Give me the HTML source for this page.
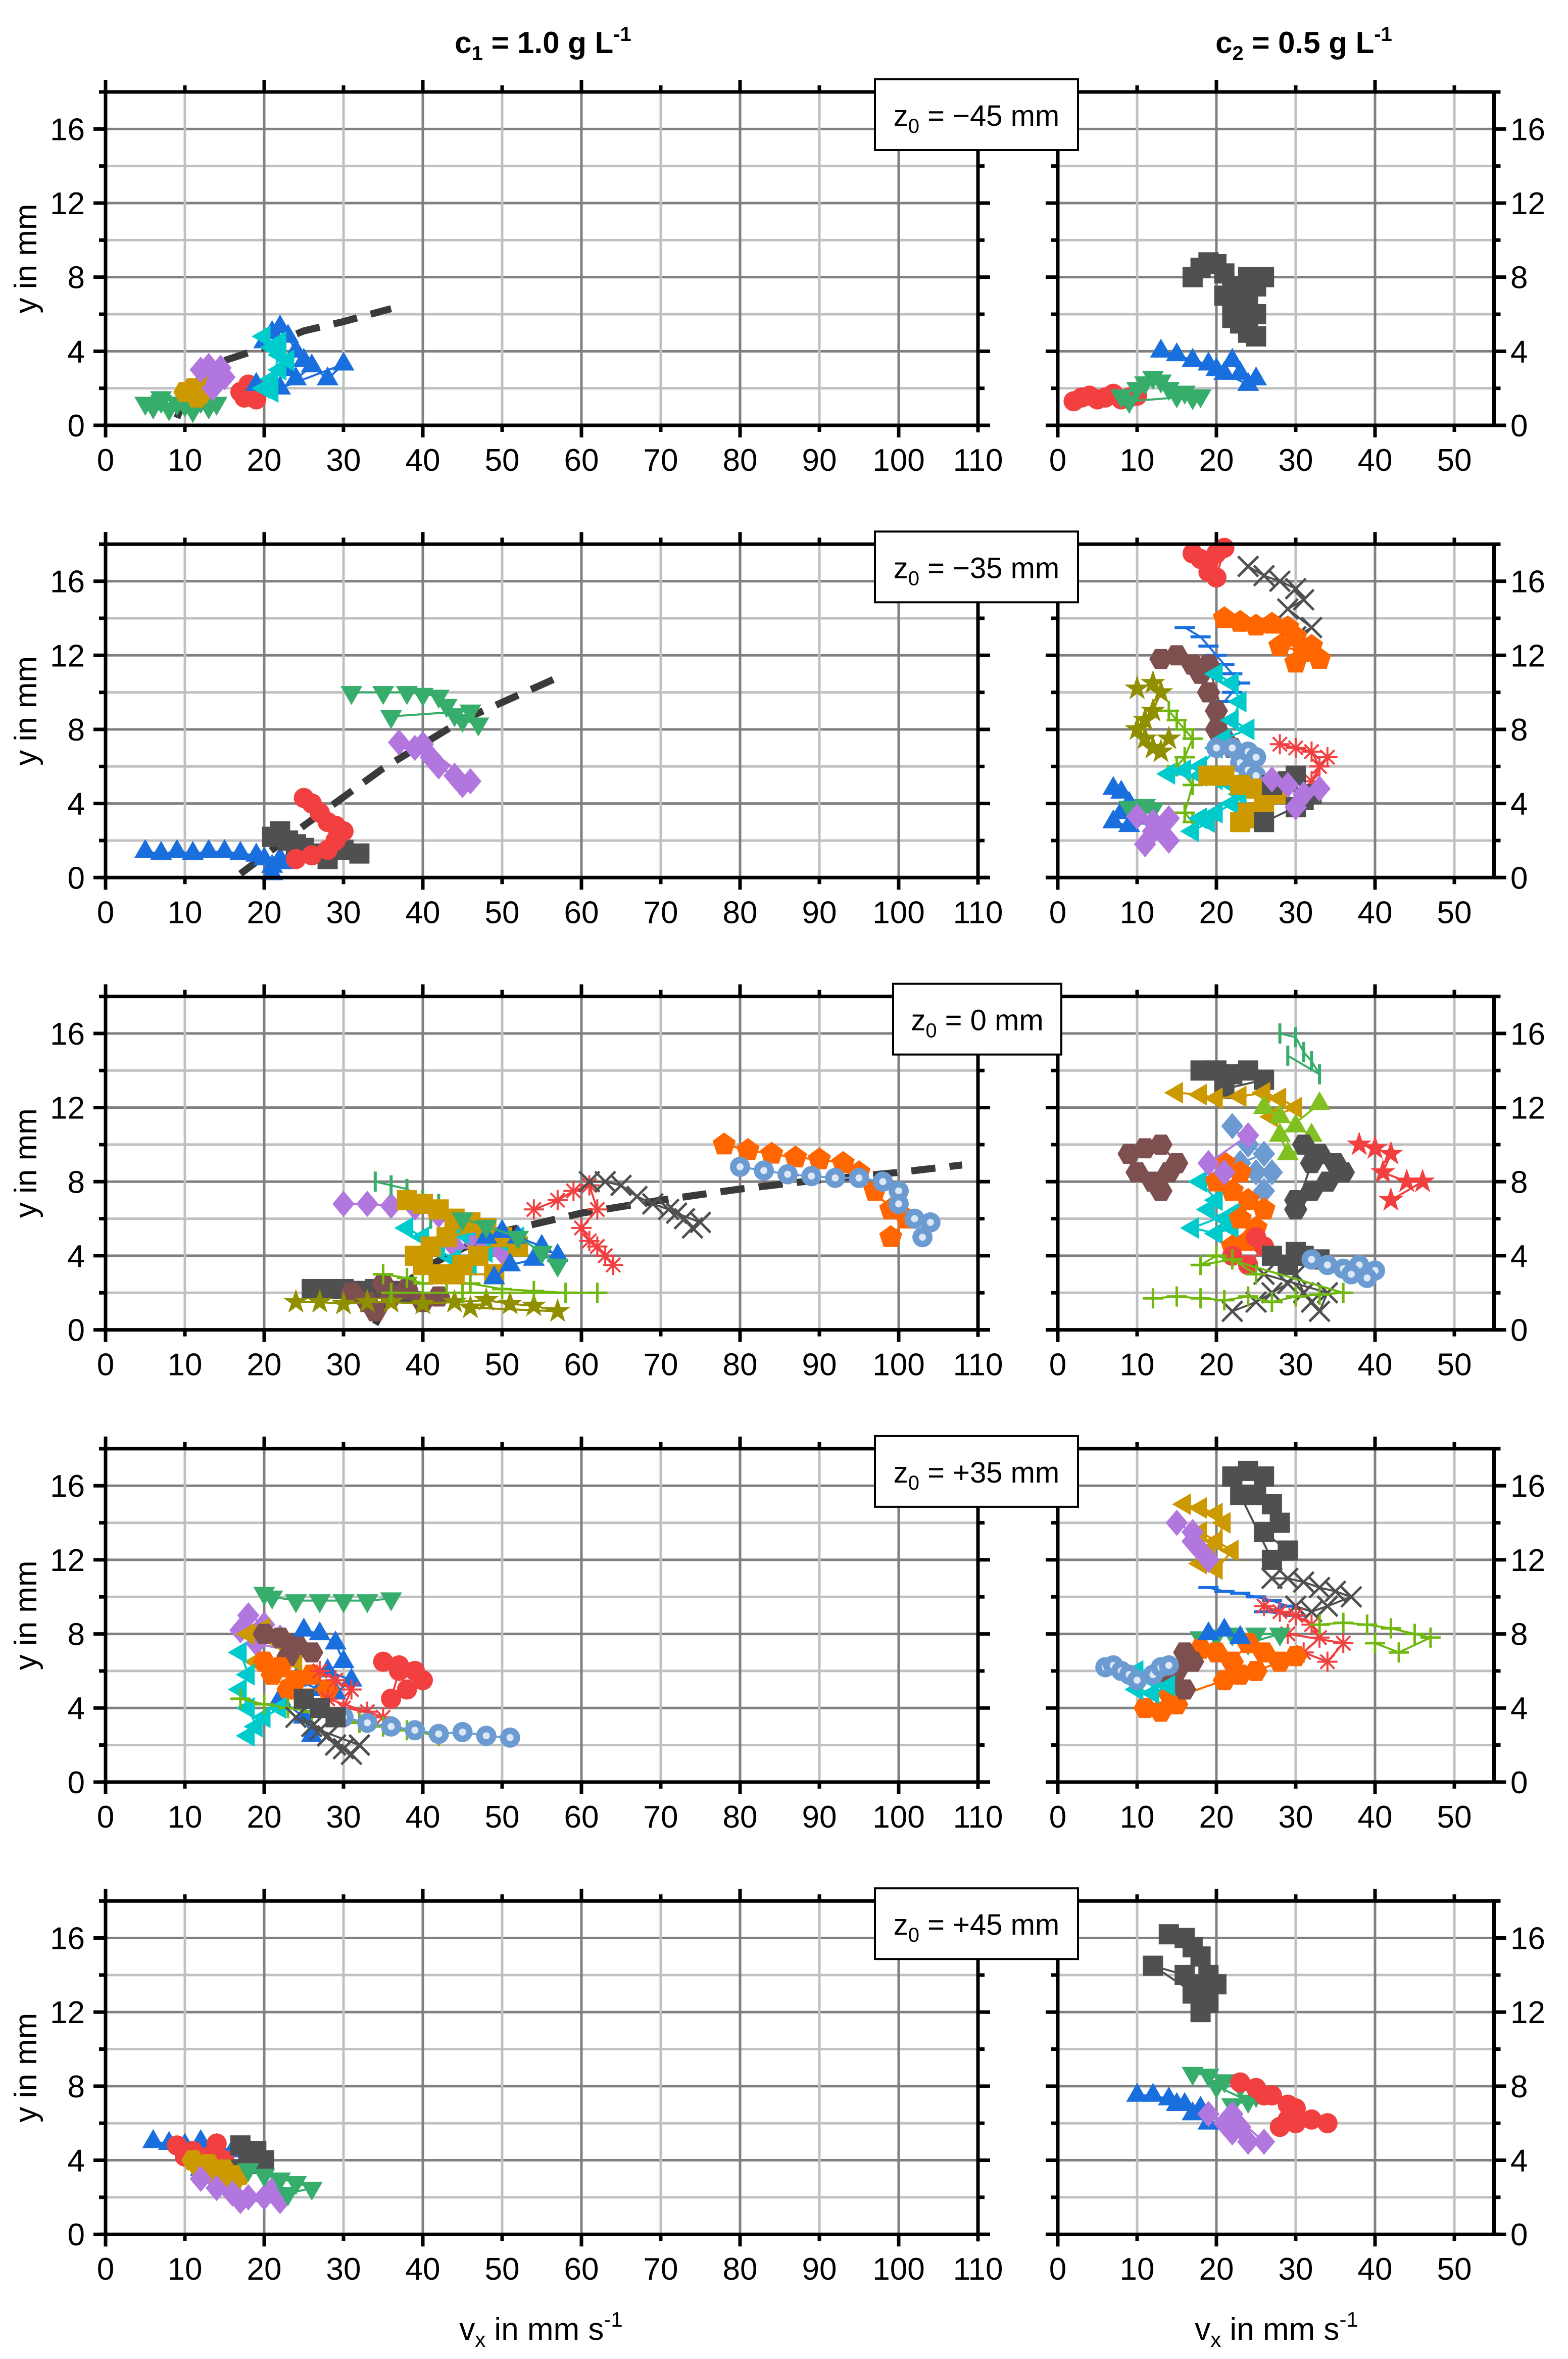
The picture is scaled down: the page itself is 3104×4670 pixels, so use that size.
<!DOCTYPE html>
<html><head><meta charset="utf-8"><style>
html,body{margin:0;padding:0;background:#fff;}
svg{display:block;}
</style></head><body>
<svg id="fig" xmlns="http://www.w3.org/2000/svg" width="3104" height="4670" viewBox="0 0 3104 4670" font-family="Liberation Sans, Arial, sans-serif">
<rect width="3104" height="4670" fill="#fff"/>
<g id="grid"></g><g id="marks"></g><g id="axes"></g><g id="labels"></g>
</svg>
<script>
// ---------- data (vx in mm/s, y in mm) ----------
const xTicksLeft=[0,10,20,30,40,50,60,70,80,90,100,110];
const xTicksRight=[0,10,20,30,40,50];
const yTicks=[0,4,8,12,16];
const panelLabels=["z\u2080 = \u221245 mm","z\u2080 = \u221235 mm","z\u2080 = 0 mm","z\u2080 = +35 mm","z\u2080 = +45 mm"];
// panel 1 (z0=-45)
const p1L_green=[[5,1.2],[6,1.0],[7,1.3],[8,0.9],[9,1.2],[10,1.1],[11,0.8],[12,1.3],[13,1.0],[14,1.2],[7,1.5],[10,1.5]];
const p1L_gold=[[10,1.8],[11,2.0],[12,1.7],[11.5,1.5],[12.5,2.1]];
const p1L_purple=[[12,3.0],[13,3.2],[14,2.8],[14,2.4],[13.5,2.0],[15,2.6],[14.5,3.1]];
const p1L_red=[[17,1.8],[18,1.6],[19,2.0],[18,2.2],[17.5,1.5],[19,1.4]];
const p1L_blue=[[20,4.5],[21,5.0],[22,5.3],[23,4.8],[24,4.0],[25,3.5],[23,3.0],[24,2.5],[26,3.2],[28,2.5],[30,3.3],[22,2.0],[19,2.2]];
const p1L_cyan=[[20,4.8],[21,4.2],[22,3.8],[23,3.5],[22,3.0],[21,2.5],[20,2.0],[21,1.8],[22,4.5]];
const p1L_fit=[[9,0.4],[10,1.5],[12,2.6],[15,3.5],[20,4.2],[25,5.1],[30,5.6],[36,6.3]];
const p1R_gray=[[17,8],[18,8.5],[19,8.8],[20,8.7],[21,8.2],[22,7.5],[23,7.0],[24,8.0],[26,8.0],[25,7.5],[24,6.5],[25,6.0],[22,5.8],[23,5.5],[24,5.0],[25,4.8],[21,7.0],[22,6.5]];
const p1R_blue=[[13,4.0],[15,3.8],[17,3.5],[19,3.3],[20,3.0],[22,3.5],[23,2.8],[25,2.5],[24,2.2],[21,2.8]];
const p1R_red=[[2,1.3],[3,1.5],[4,1.6],[5,1.4],[6,1.5],[7,1.7],[8,1.4],[9,1.5],[10,1.6]];
const p1R_green=[[8,1.6],[10,2.0],[11,2.3],[12,2.6],[13,2.4],[14,2.0],[15,1.6],[16,1.8],[17,1.5],[18,1.6],[9,1.3]];
// panel 2 (z0=-35)
const p2L_blue=[[5,1.4],[7,1.3],[9,1.4],[11,1.3],[13,1.4],[15,1.4],[17,1.3],[19,1.2],[20,1.0],[21,0.6],[22,1.0],[23,0.8],[21,0.2]];
const p2L_gray=[[21,2.2],[22,2.5],[23,2.0],[24,1.8],[25,1.6],[27,1.3],[28,1.0],[30,1.5],[32,1.3]];
const p2L_red=[[25,4.3],[26,4.0],[27,3.5],[28,3.0],[29,2.8],[30,2.5],[29,2.0],[28,1.5],[26,1.2],[24,1.0]];
const p2L_purple=[[37,7.3],[39,7.0],[41,6.5],[42,6.0],[44,5.5],[45,5.0],[46,5.2],[40,7.2]];
const p2L_green=[[31,10.0],[35,10.0],[38,10.0],[40,9.9],[42,9.8],[43,9.3],[44,8.8],[45,8.5],[47,8.3],[46,9.0],[36,8.7]];
const p2L_fit=[[17,0.2],[25,2.8],[35,5.9],[45,8.5],[57,10.8]];
const p2R_red=[[17,17.5],[18,17.2],[19,17.0],[20,17.5],[19,16.5],[20,16.2],[21,17.8]];
const p2R_grayx=[[24,16.8],[26,16.3],[28,16.0],[30,15.6],[31,15.0],[29,14.5],[32,13.5],[30,13.0]];
const p2R_orange=[[21,14.0],[23,13.8],[25,13.6],[27,13.7],[29,13.5],[30,13.0],[28,12.5],[31,12.2],[33,11.8],[30,11.6],[32,12.5]];
const p2R_bluedash=[[16,13.5],[18,13.0],[19,12.5],[20,12.0],[21,11.5],[22,11.0],[23,10.5],[22,10.0],[21,9.5]];
const p2R_brown=[[13,11.8],[15,12.0],[17,11.5],[18,11.0],[19,10.0],[20,9.0],[20,8.0],[21,7.5],[22,7.0],[19,11.5]];
const p2R_olive=[[10,10.2],[12,10.5],[13,10.0],[12,9.0],[11,8.5],[10,8.0],[11,7.5],[12,7.0],[13,6.8],[14,7.5]];
const p2R_lime=[[14,9.0],[15,8.5],[16,8.0],[17,7.5],[16,6.5],[15,6.0],[17,5.0],[16,3.5],[17,3.0]];
const p2R_cyan=[[20,11.0],[22,10.5],[23,9.5],[22,8.5],[24,8.0],[21,7.5],[20,7.0],[18,6.0],[16,5.8],[14,5.6],[18,5.5],[20,5.3],[22,5.0],[23,4.5],[22,4.0],[20,3.5],[19,3.0],[17,2.5],[18,3.2]];
const p2R_ltblue=[[20,7.0],[22,7.0],[24,6.8],[25,6.5],[23,6.2],[24,5.8],[25,5.5]];
const p2R_redstar=[[28,7.2],[30,7.0],[32,6.8],[33,6.0],[32,5.2],[34,6.5]];
const p2R_gold=[[19,5.5],[21,5.5],[23,5.0],[25,4.8],[27,5.0],[28,4.5],[26,4.0],[24,3.5],[23,3.0],[25,3.2]];
const p2R_gray=[[27,5.0],[29,5.2],[30,5.5],[32,4.5],[31,4.2],[30,3.8],[26,3.0]];
const p2R_purple2=[[27,5.3],[29,5.0],[31,4.5],[33,4.8],[30,3.8]];
const p2R_blue=[[7,4.8],[8,4.6],[9,4.0],[8,3.5],[7,3.0],[9,2.8],[10,3.2]];
const p2R_green=[[9,3.8],[11,3.9],[12,3.7]];
const p2R_purple=[[10,3.3],[12,3.0],[13,2.5],[14,2.0],[12,2.5],[14,3.2],[11,1.8]];
// panel 3 (z0=0)
const p3L_gray=[[26,2.2],[28,2.2],[30,2.2],[32,2.1],[34,2.2],[36,2.1],[38,2.0]];
const p3L_brown=[[31,2.0],[33,1.5],[34,1.0],[36,1.8],[38,2.2],[40,1.5],[35,2.5],[42,1.8]];
const p3L_olive=[[24,1.5],[27,1.5],[30,1.4],[33,1.5],[36,1.5],[40,1.4],[44,1.5],[48,1.6],[51,1.4],[54,1.3],[57,1.0],[46,1.2]];
const p3L_lime=[[35,3.0],[38,2.8],[40,2.5],[43,2.6],[46,2.5],[50,2.2],[54,2.1],[58,2.0],[62,2.0],[45,2.0],[36,2.0]];
const p3L_purple=[[30,6.8],[33,6.8],[36,6.7],[39,6.6],[42,6.2],[44,5.5],[46,5.0],[48,4.6],[50,4.2],[44,4.5]];
const p3L_greendash=[[34,8.0],[36,7.8],[38,7.6],[40,7.0],[42,6.8],[41,6.0]];
const p3L_gold=[[38,7.0],[40,6.8],[42,6.5],[44,6.0],[46,5.8],[48,5.5],[43,5.0],[41,4.5],[39,4.0],[40,3.5],[42,3.0],[45,3.5],[47,4.0],[50,5.0],[52,4.5],[49,3.0],[44,3.0]];
const p3L_cyan=[[38,5.5],[40,5.0],[42,4.3],[44,3.8],[46,3.5],[48,4.2],[50,4.8],[52,5.0],[45,5.2]];
const p3L_blue=[[48,5.0],[50,5.3],[52,5.0],[55,4.5],[57,4.0],[54,3.8],[51,3.5],[49,2.8]];
const p3L_green=[[45,6.0],[48,5.6],[52,5.0],[55,4.2],[57,3.5]];
const p3L_redstar=[[54,6.5],[57,7.0],[59,7.5],[61,7.8],[62,6.5],[60,5.5],[61,4.8],[63,4.0],[64,3.5],[62,4.5]];
const p3L_grayx=[[61,8.0],[63,8.0],[65,7.8],[67,7.2],[69,6.8],[71,6.5],[73,6.0],[74,5.5],[75,5.8],[72,6.3]];
const p3L_orange=[[78,10.0],[81,9.7],[84,9.5],[87,9.3],[90,9.2],[93,9.0],[95,8.5],[97,7.5],[99,6.5],[101,6.0],[99,5.0]];
const p3L_ltblue=[[80,8.8],[83,8.6],[86,8.4],[89,8.3],[92,8.2],[95,8.2],[98,8.0],[100,7.5],[100,6.8],[102,6.0],[104,5.8],[103,5.0]];
const p3L_fit=[[34,0.3],[36,1.8],[40,3.3],[45,4.4],[50,5.3],[55,5.8],[60,6.3],[70,7.0],[80,7.6],[90,8.1],[100,8.5],[108,8.9]];
const p3R_gray=[[18,14],[20,14],[22,13.8],[24,14],[26,13.5],[21,13.0]];
const p3R_gold=[[15,12.8],[18,12.7],[20,12.5],[23,12.6],[26,12.8],[28,12.5],[30,12.0],[27,11.5]];
const p3R_greendash=[[28,16],[30,15.8],[31,15.0],[32,14.5],[33,13.8],[29,14.8]];
const p3R_ygreen=[[26,12],[28,11.5],[30,11],[32,10.5],[31,9.8],[29,9.5],[28,10.5],[33,12.2]];
const p3R_darkhex=[[31,10],[33,9.5],[35,9.0],[36,8.5],[34,8.0],[32,7.5],[30,7.0],[30,6.5],[32,9]];
const p3R_redstar=[[38,10],[40,9.8],[42,9.5],[41,8.5],[44,8.0],[46,8.0],[42,7.0]];
const p3R_brown=[[9,9.5],[11,9.8],[13,10.0],[15,9.0],[14,8.5],[12,8.0],[10,8.5],[13,7.5]];
const p3R_ltdiam=[[22,11.0],[24,10.0],[26,9.5],[23,9.0],[25,8.5],[27,8.5],[26,7.5]];
const p3R_cyan=[[18,8.0],[20,7.0],[19,6.5],[21,6.0],[22,5.5],[20,5.2],[17,5.5],[23,6.5]];
const p3R_orange=[[21,9.0],[23,8.5],[22,7.5],[24,7.0],[23,6.0],[25,5.5],[24,4.8],[22,4.5],[26,6.5],[20,8.0]];
const p3R_purple=[[21,8.5],[19,9.0],[24,10.5]];
const p3R_red=[[22,4.0],[24,3.5],[26,4.5],[25,5.0]];
const p3R_grayx=[[22,1.0],[25,1.5],[27,2.0],[29,2.5],[30,3.0],[31,2.0],[32,1.5],[33,1.0],[34,2.0],[26,3.0]];
const p3R_graysq=[[27,4.0],[29,3.5],[31,4.0],[33,3.8],[30,4.2]];
const p3R_ltblue=[[32,3.8],[34,3.5],[36,3.3],[38,3.5],[40,3.2],[39,2.8],[37,3.0]];
const p3R_lime=[[12,1.7],[15,1.8],[18,1.7],[21,1.6],[24,1.8],[27,1.5],[30,1.8],[33,1.9],[36,2.0],[20,4.0],[18,3.5],[22,3.8],[25,3.0]];
// panel 4 (z0=+35)
const p4L_green=[[20,10.2],[21,10.0],[24,9.8],[27,9.8],[30,9.8],[33,9.8],[36,9.9]];
const p4L_purple=[[18,9.0],[20,8.5],[22,7.8],[24,7.0],[19,7.5],[17,8.2]];
const p4L_gold=[[18,8.0],[20,8.3],[22,7.5],[24,6.5],[21,6.0],[19,6.5]];
const p4L_brown=[[20,8],[22,7.8],[24,7.5],[26,7.0],[23,6.8]];
const p4L_blue=[[25,8.2],[27,8.0],[29,7.5],[30,6.5],[28,6.0],[31,5.5],[29,4.8],[27,5.0],[24,5.5],[22,4.5],[25,3.5],[26,2.5]];
const p4L_orange=[[20,6.5],[22,6.2],[24,5.5],[26,5.8],[28,5.0],[23,5.0],[21,5.8]];
const p4L_cyan=[[17,7.0],[18,5.8],[17,5.0],[18,4.0],[19,3.0],[18,2.5],[20,3.5],[22,4.0]];
const p4L_redstar=[[27,6.0],[29,5.5],[31,5.0],[30,4.0],[33,3.8],[35,3.5],[28,4.5]];
const p4L_red=[[35,6.5],[37,6.3],[39,6.0],[40,5.5],[38,5.0],[36,4.5],[37,6.0]];
const p4L_lime=[[17,4.5],[20,4.2],[23,4.0],[26,3.8],[29,3.5],[32,3.2],[35,3.0],[38,2.8],[42,2.5]];
const p4L_grayx=[[24,3.5],[26,3.0],[28,2.5],[29,2.0],[30,1.8],[31,1.5],[32,2.0],[27,2.8]];
const p4L_ltblue=[[30,3.5],[33,3.2],[36,3.0],[39,2.8],[42,2.6],[45,2.7],[48,2.5],[51,2.4]];
const p4L_gray=[[25,4.5],[27,4.0],[29,3.5]];
const p4R_gray=[[22,16.5],[24,16.8],[26,16.5],[25,15.5],[27,15.0],[28,14.0],[26,13.5],[29,12.5],[27,12.0],[23,15.5]];
const p4R_gold=[[16,15.0],[18,14.8],[20,14.5],[21,14.0],[20,13.0],[19,12.5],[18,11.8],[20,11.5],[22,12.5],[18,13.5]];
const p4R_purple=[[15,14.0],[17,13.5],[18,12.5],[19,12.0],[17,13.0]];
const p4R_bluedash=[[19,10.5],[21,10.3],[23,10.2],[25,10.0],[27,9.8],[29,9.5],[26,9.2],[30,9.0]];
const p4R_grayx=[[27,11.0],[29,11.0],[31,10.8],[33,10.5],[35,10.3],[37,10.0],[34,9.5],[32,9.2],[30,9.5]];
const p4R_redstar=[[26,9.5],[28,9.2],[30,9.0],[32,8.5],[33,7.8],[31,7.0],[34,6.5],[36,7.5],[29,8.0]];
const p4R_lime=[[33,8.5],[36,8.6],[39,8.5],[42,8.3],[45,8.0],[47,7.8],[43,7.0],[40,7.5]];
const p4R_green=[[18,7.8],[20,7.9],[22,8.0],[25,8.0],[28,8.0],[24,7.5]];
const p4R_orange=[[18,7.2],[20,7.0],[22,6.5],[24,7.5],[26,7.0],[28,6.5],[30,6.8],[25,6.0],[21,5.5],[23,5.8],[11,4.0],[13,3.8],[15,4.2],[14,4.8]];
const p4R_brown=[[15,6.0],[16,7.0],[17,6.5],[14,5.5],[16,5.0]];
const p4R_cyan=[[10,6.0],[12,5.5],[14,5.2],[12,4.8],[10,5.0]];
const p4R_ltblue=[[6,6.2],[7,6.3],[8,6.0],[9,5.8],[10,5.5],[12,5.8],[13,6.2],[14,6.3]];
const p4R_blue=[[19,8.0],[21,8.2],[23,7.8]];
// panel 5 (z0=+45)
const p5L_blue=[[6,5.0],[8,4.9],[10,4.8],[12,5.0],[14,4.8],[16,4.5],[18,4.6],[14,4.0],[12,3.5]];
const p5L_red=[[9,4.8],[11,4.5],[13,4.2],[15,4.0],[12,4.0],[10,4.2],[14,4.9]];
const p5L_gray=[[17,4.8],[19,4.5],[20,4.0],[18,3.8],[16,3.5]];
const p5L_gold=[[11,4.0],[13,3.8],[15,3.5],[17,3.2],[14,3.0],[12,3.5],[16,2.8]];
const p5L_purple=[[12,3.0],[14,2.5],[16,2.2],[18,2.0],[20,2.0],[22,1.8],[17,1.8],[21,2.4]];
const p5L_green=[[18,3.5],[20,3.2],[22,3.0],[24,2.8],[26,2.5],[23,2.2]];
const p5R_gray=[[14,16.2],[16,16.0],[17,15.5],[18,15.0],[19,14.0],[18,13.5],[17,13.0],[16,14.0],[12,14.5],[19,12.5],[20,13.5],[18,12.0]];
const p5R_green=[[17,8.7],[19,8.6],[21,8.3],[23,8.0],[25,7.5],[22,7.0],[24,7.2],[20,8.0]];
const p5R_red=[[23,8.2],[25,7.9],[27,7.5],[29,7.0],[29,6.2],[30,6.0],[32,6.2],[34,6.0],[28,5.8],[30,6.8],[26,7.5]];
const p5R_blue=[[10,7.5],[12,7.5],[14,7.3],[16,7.0],[17,6.5],[19,6.0],[21,6.0],[18,6.8],[15,7.0]];
const p5R_purple=[[19,6.5],[21,6.0],[22,5.5],[24,5.0],[26,5.0],[22,6.5],[23,5.8]];

// ---------- styles ----------
const C={gray:"#505050",red:"#f24040",blue:"#1a6fdf",green:"#37ad6b",purple:"#b177de",gold:"#cc9900",cyan:"#00cbcc",brown:"#7e4f4f",olive:"#8f8f00",orange:"#ff6600",ltblue:"#6c9bd2",lime:"#70b70f",ygreen:"#80c020"};
const SERIES=[
[0,'L','tdown',C.green,p1L_green],[0,'L','hex',C.gold,p1L_gold],[0,'L','diam',C.purple,p1L_purple],[0,'L','circ',C.red,p1L_red],[0,'L','tup',C.blue,p1L_blue],[0,'L','tleft',C.cyan,p1L_cyan],
[0,'R','sq',C.gray,p1R_gray],[0,'R','tup',C.blue,p1R_blue],[0,'R','circ',C.red,p1R_red],[0,'R','tdown',C.green,p1R_green],
[1,'L','tup',C.blue,p2L_blue],[1,'L','sq',C.gray,p2L_gray],[1,'L','circ',C.red,p2L_red],[1,'L','diam',C.purple,p2L_purple],[1,'L','tdown',C.green,p2L_green],
[1,'R','circ',C.red,p2R_red],[1,'R','x',C.gray,p2R_grayx],[1,'R','pent',C.orange,p2R_orange],[1,'R','dash',C.blue,p2R_bluedash],[1,'R','hex',C.brown,p2R_brown],[1,'R','star',C.olive,p2R_olive],[1,'R','plus',C.lime,p2R_lime],[1,'R','tleft',C.cyan,p2R_cyan],[1,'R','ring',C.ltblue,p2R_ltblue],[1,'R','ast',C.red,p2R_redstar],[1,'R','sq',C.gold,p2R_gold],[1,'R','sq',C.gray,p2R_gray],[1,'R','diam',C.purple,p2R_purple2],[1,'R','tup',C.blue,p2R_blue],[1,'R','tdown',C.green,p2R_green],[1,'R','diam',C.purple,p2R_purple],
[2,'L','sq',C.gray,p3L_gray],[2,'L','hex',C.brown,p3L_brown],[2,'L','star',C.olive,p3L_olive],[2,'L','plus',C.lime,p3L_lime],[2,'L','diam',C.purple,p3L_purple],[2,'L','vdash',C.green,p3L_greendash],[2,'L','tleft',C.cyan,p3L_cyan],[2,'L','sq',C.gold,p3L_gold],[2,'L','tup',C.blue,p3L_blue],[2,'L','tdown',C.green,p3L_green],[2,'L','ast',C.red,p3L_redstar],[2,'L','x',C.gray,p3L_grayx],[2,'L','pent',C.orange,p3L_orange],[2,'L','ring',C.ltblue,p3L_ltblue],
[2,'R','sq',C.gray,p3R_gray],[2,'R','tleft',C.gold,p3R_gold],[2,'R','vdash',C.green,p3R_greendash],[2,'R','tup',C.ygreen,p3R_ygreen],[2,'R','hex',C.gray,p3R_darkhex],[2,'R','star',C.red,p3R_redstar],[2,'R','hex',C.brown,p3R_brown],[2,'R','diam',C.ltblue,p3R_ltdiam],[2,'R','tleft',C.cyan,p3R_cyan],[2,'R','pent',C.orange,p3R_orange],[2,'R','diam',C.purple,p3R_purple],[2,'R','circ',C.red,p3R_red],[2,'R','x',C.gray,p3R_grayx],[2,'R','sq',C.gray,p3R_graysq],[2,'R','ring',C.ltblue,p3R_ltblue],[2,'R','plus',C.lime,p3R_lime],
[3,'L','tdown',C.green,p4L_green],[3,'L','diam',C.purple,p4L_purple],[3,'L','tleft',C.gold,p4L_gold],[3,'L','hex',C.brown,p4L_brown],[3,'L','tup',C.blue,p4L_blue],[3,'L','hex',C.orange,p4L_orange],[3,'L','tleft',C.cyan,p4L_cyan],[3,'L','ast',C.red,p4L_redstar],[3,'L','circ',C.red,p4L_red],[3,'L','plus',C.lime,p4L_lime],[3,'L','x',C.gray,p4L_grayx],[3,'L','ring',C.ltblue,p4L_ltblue],[3,'L','sq',C.gray,p4L_gray],
[3,'R','sq',C.gray,p4R_gray],[3,'R','tleft',C.gold,p4R_gold],[3,'R','diam',C.purple,p4R_purple],[3,'R','dash',C.blue,p4R_bluedash],[3,'R','x',C.gray,p4R_grayx],[3,'R','ast',C.red,p4R_redstar],[3,'R','plus',C.lime,p4R_lime],[3,'R','tdown',C.green,p4R_green],[3,'R','hex',C.orange,p4R_orange],[3,'R','hex',C.brown,p4R_brown],[3,'R','tleft',C.cyan,p4R_cyan],[3,'R','ring',C.ltblue,p4R_ltblue],[3,'R','tup',C.blue,p4R_blue],
[4,'L','tup',C.blue,p5L_blue],[4,'L','circ',C.red,p5L_red],[4,'L','sq',C.gray,p5L_gray],[4,'L','hex',C.gold,p5L_gold],[4,'L','diam',C.purple,p5L_purple],[4,'L','tdown',C.green,p5L_green],
[4,'R','sq',C.gray,p5R_gray],[4,'R','tdown',C.green,p5R_green],[4,'R','circ',C.red,p5R_red],[4,'R','tup',C.blue,p5R_blue],[4,'R','diam',C.purple,p5R_purple]
];
const FITS=[[0,p1L_fit],[1,p2L_fit],[2,p3L_fit]];

// ---------- layout ----------
const NS="http://www.w3.org/2000/svg";
const PT=182, PSTEP=895.3, PH=660, YMAX=18, XS=15.7;
const XL0=209, XL1=209+110*XS, XR0=2094, XR1=2094+55*XS;
const BOX=[[1732,2134],[1732,2134],[1768,2101],[1732,2134],[1732,2134]];
function ptop(i){return PT+i*PSTEP;}
function sy(i,v){return ptop(i)+PH-v*PH/YMAX;}
function sx(side,v){return (side==='L'?XL0:XR0)+v*XS;}
function el(tag,attrs,parent){const e=document.createElementNS(NS,tag);for(const k in attrs)e.setAttribute(k,attrs[k]);parent.appendChild(e);return e;}
const G=document.getElementById('grid'),M=document.getElementById('marks'),A=document.getElementById('axes'),T=document.getElementById('labels');

for(let i=0;i<5;i++){
  const t=ptop(i), b=t+PH;
  for(let v=2;v<=16;v+=2){
    for(const s of ['L','R']){
      const ln=el('line',{x1:s==='L'?XL0:XR0,x2:s==='L'?XL1:XR1,y1:sy(i,v),y2:sy(i,v),stroke:v%4===0?'#808080':'#c0c0c0','stroke-width':5},G);
      
      
    }
  }
  for(const [s,ticks] of [['L',xTicksLeft],['R',xTicksRight]]){
    for(const v of ticks){
      if(v===0||(s==='L'&&v===110))continue;
      const ln=el('line',{x1:sx(s,v),x2:sx(s,v),y1:t,y2:b,stroke:v%20===0?'#808080':'#c0c0c0','stroke-width':5},G);
      
      
    }
  }
  const fr=(x1,y1,x2,y2,nm)=>{const l=el('line',{x1:x1,y1:y1,x2:x2,y2:y2,stroke:'#000','stroke-width':7},A);};
  fr(XL0-12,t,XL1+12,t,'top-frame');fr(XL0-12,b,XL1+24,b,'x-axis-left');fr(XL0,t-24,XL0,b+24,'y-axis-left');fr(XL1,t,XL1,b+14,'right-spine-left');
  fr(XR0-12,t,XR1+12,t,'top-frame');fr(XR0-24,b,XR1+12,b,'x-axis-right');fr(XR0,t-24,XR0,b+24,'left-spine-right');fr(XR1,t,XR1,b,'y-axis-right');
  for(let v=0;v<=18;v+=2){
    const L=(v%4===0)?24:13, y=sy(i,v);
    fr(XL0-L,y,XL0,y,'y-tick');fr(XL1,y,XL1+L,y,'y-tick');fr(XR0-L,y,XR0,y,'y-tick');fr(XR1,y,XR1+L,y,'y-tick');
    if(v%4===0){
      const tl=el('text',{x:168,y:y+22,'font-size':62,'text-anchor':'end'},T);tl.textContent=v;
      
      
      const tr=el('text',{x:2990,y:y+22,'font-size':62},T);tr.textContent=v;
      
      
    }
  }
  for(const [s,ticks] of [['L',xTicksLeft],['R',xTicksRight]]){
    for(const v of ticks){
      const x=sx(s,v), L=(v%20===0)?24:13;
      fr(x,b,x,b+L,'x-tick');fr(x,t-L,x,t,'x-tick');
      const tx=el('text',{x:x,y:b+90,'font-size':62,'text-anchor':'middle'},T);tx.textContent=v;
      
      
    }
  }
  const yt=el('text',{x:0,y:0,'font-size':62,'text-anchor':'middle',transform:'translate(72,'+(t+PH/2)+') rotate(-90)'},T);yt.textContent='y in mm';
  
  
}

for(const [i,pts] of FITS){
  const p=el('polyline',{points:pts.map(q=>sx('L',q[0])+','+sy(i,q[1])).join(' '),fill:'none',stroke:'#3a3a3a','stroke-width':14,'stroke-dasharray':'48 28'},M);
  
  
}

const S=20;
function poly(n,r,rot){let a=[];for(let k=0;k<n;k++){const an=rot+k*2*Math.PI/n;a.push([r*Math.cos(an),r*Math.sin(an)]);}return a;}
function marker(g,type,x,y,c){
  const P=(arr)=>el('polygon',{points:arr.map(p=>(x+p[0])+','+(y+p[1])).join(' '),fill:c},g);
  switch(type){
    case 'sq':el('rect',{x:x-S,y:y-S,width:2*S,height:2*S,fill:c},g);break;
    case 'circ':el('circle',{cx:x,cy:y,r:S,fill:c},g);break;
    case 'ring':el('circle',{cx:x,cy:y,r:S,fill:c},g);el('circle',{cx:x,cy:y,r:7,fill:'#dde8f6'},g);break;
    case 'tup':P(poly(3,S*1.25,-Math.PI/2));break;
    case 'tdown':P(poly(3,S*1.25,Math.PI/2));break;
    case 'tleft':P(poly(3,S*1.25,Math.PI));break;
    case 'diam':P([[0,-S*1.3],[S*1.1,0],[0,S*1.3],[-S*1.1,0]]);break;
    case 'pent':P(poly(5,S*1.2,-Math.PI/2));break;
    case 'hex':P(poly(6,S*1.15,0));break;
    case 'star':{let a=[];for(let k=0;k<10;k++){const r=k%2?S*0.5:S*1.3,an=-Math.PI/2+k*Math.PI/5;a.push([r*Math.cos(an),r*Math.sin(an)]);}P(a);break;}
    case 'plus':el('path',{d:'M'+(x-S)+','+y+'H'+(x+S)+'M'+x+','+(y-S)+'V'+(y+S),stroke:c,'stroke-width':5},g);break;
    case 'x':el('path',{d:'M'+(x-S)+','+(y-S)+'L'+(x+S)+','+(y+S)+'M'+(x+S)+','+(y-S)+'L'+(x-S)+','+(y+S),stroke:c,'stroke-width':5},g);break;
    case 'ast':el('path',{d:'M'+(x-S)+','+y+'H'+(x+S)+'M'+x+','+(y-S)+'V'+(y+S)+'M'+(x-14)+','+(y-14)+'L'+(x+14)+','+(y+14)+'M'+(x+14)+','+(y-14)+'L'+(x-14)+','+(y+14),stroke:c,'stroke-width':4},g);break;
    case 'dash':el('path',{d:'M'+(x-S)+','+y+'H'+(x+S),stroke:c,'stroke-width':6},g);break;
    case 'vdash':el('path',{d:'M'+x+','+(y-S)+'V'+(y+S),stroke:c,'stroke-width':6},g);break;
  }
}
for(const [i,side,type,color,pts] of SERIES){
  const g=el('g',{},M);
  
  
  el('polyline',{points:pts.map(q=>sx(side,q[0])+','+sy(i,q[1])).join(' '),fill:'none',stroke:color,'stroke-width':4},g);
  for(const q of pts)marker(g,type,sx(side,q[0]),sy(i,q[1]),color);
}

for(let i=0;i<5;i++){
  const x1=BOX[i][0], x2=BOX[i][1], bt=ptop(i)-25;
  const r=el('rect',{x:x1,y:bt,width:x2-x1,height:140,fill:'#fff',stroke:'#000','stroke-width':4},T);
  
  
  const tx=el('text',{x:(x1+x2)/2,y:bt+92,'font-size':58,'text-anchor':'middle'},T);
  
  
  const a=el('tspan',{},tx);a.textContent='z';
  const b2=el('tspan',{'font-size':40,dy:14},tx);b2.textContent='0';
  const c2=el('tspan',{dy:-14},tx);c2.textContent=' '+panelLabels[i].slice(3);
}
</script>
<svg style="position:absolute;left:0;top:0" width="3104" height="4670" font-family="Liberation Sans, Arial, sans-serif">
<text x="1075" y="105" font-size="60" font-weight="bold" text-anchor="middle">c<tspan font-size="40" dy="14">1</tspan><tspan dy="-14"> = 1.0 g L</tspan><tspan font-size="40" dy="-24">-1</tspan></text>
<text x="2581" y="105" font-size="60" font-weight="bold" text-anchor="middle">c<tspan font-size="40" dy="14">2</tspan><tspan dy="-14"> = 0.5 g L</tspan><tspan font-size="40" dy="-24">-1</tspan></text>
<text x="1071" y="4632" font-size="62" text-anchor="middle">v<tspan font-size="42" dy="14">x</tspan><tspan dy="-14"> in mm s</tspan><tspan font-size="42" dy="-26">-1</tspan></text>
<text x="2527" y="4632" font-size="62" text-anchor="middle">v<tspan font-size="42" dy="14">x</tspan><tspan dy="-14"> in mm s</tspan><tspan font-size="42" dy="-26">-1</tspan></text>
</svg>
</body></html>
